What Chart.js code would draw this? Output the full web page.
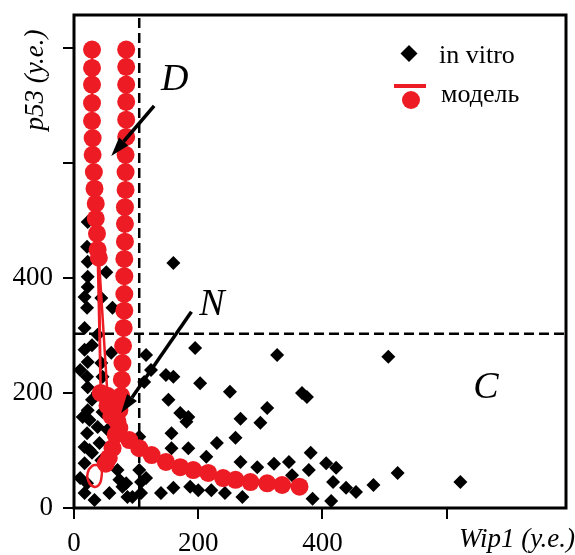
<!DOCTYPE html>
<html>
<head>
<meta charset="utf-8">
<script src="https://cdn.jsdelivr.net/npm/chart.js@4/dist/chart.umd.min.js"></script>
<style>
  html, body { margin: 0; padding: 0; background: #fff; overflow: hidden; }
  #wrap { width: 575px; height: 555px; position: relative; }
</style>
</head>
<body>
<div id="wrap"><canvas id="phaseChart"></canvas></div>
<script>
// in vitro measurements (Wip1, p53)
const vitroWip1 = [
  22, 21, 52, 22, 22, 22, 17, 44, 21, 62, 17, 38, 29, 17, 60, 22, 44, 10, 21, 46,
  22, 38, 29, 22, 46, 25, 38, 21, 54, 17, 41, 29, 17, 44, 10, 17, 33, 21, 57, 14,
  25, 70, 73, 84, 86, 94, 78, 105, 116, 108, 108, 140, 160, 187, 157, 184, 157, 171,
  184, 152, 113, 124, 148, 160, 116, 160, 195, 105, 181,
  203, 251, 327, 367, 375, 311, 268, 300, 260, 230, 213, 268, 295, 322, 346, 381,
  378, 351, 200, 221, 243, 271, 384, 406, 422, 417, 438, 454, 414, 482, 506, 521, 622
];
const vitroP53 = [
  497, 454, 410, 428, 402, 384, 367, 365, 348, 348, 313, 301, 283, 275, 270, 254, 252, 240, 228, 228,
  210, 200, 188, 170, 167, 153, 141, 130, 136, 106, 113, 96, 78, 83, 52, 26, 14, 43, 26, 158,
  101, 66, 49, 43, 19, 19, 37, 66, 52, 26, 45, 26, 35, 37, 104, 104, 130, 165,
  158, 188, 219, 240, 231, 228, 266, 426, 278, 124, 150,
  217, 202, 266, 200, 193, 174, 155, 148, 122, 113, 89, 80, 71, 77, 80, 96,
  66, 57, 31, 31, 26, 19, 16, 78, 70, 45, 35, 28, 12, 40, 263, 61, 45
];

// model trajectories
const modelAWip1 = [29, 29, 29, 29, 29, 30, 30, 32, 33, 35, 35, 37, 38, 43, 40, 54, 54, 60];
const modelAP53 = [797, 765, 736, 704, 673, 643, 614, 584, 555, 529, 503, 477, 449, 200, 435, 195, 178, 160];

const modelBWip1 = [84, 84, 84, 84, 84, 84, 83, 83, 83, 82, 82, 82, 81, 81, 81, 81, 80, 79, 78, 77, 76, 73, 70, 67, 62, 56, 51];
const modelBP53 = [797, 767, 736, 706, 675, 645, 614, 584, 553, 523, 494, 463, 433, 403, 372, 343, 313, 282, 252, 223, 195, 170, 150, 127, 104, 87, 77];

const modelCWip1 = [363, 335, 311, 284, 260, 240, 216, 192, 171, 148, 125, 105, 89, 73];
const modelCP53 = [37, 40, 43, 45, 49, 52, 61, 66, 71, 80, 92, 104, 118, 139];

// small closed cycle near the origin
const cycleWip1 = [38, 44, 44, 40, 32, 24, 22, 29, 38];
const cycleP53 = [75, 68, 52, 40, 37, 45, 61, 73, 75];

// region borders
const wip1Border = 105;
const p53Border = 303;

const xMax = 792;
const yMax = 857;
const xTicks = [0, 200, 400, 600];
const yTicks = [0, 200, 400, 600, 800];
const labelledTicks = [0, 200, 400];

const RED = "#ed1c24";
const SERIF = "'Liberation Serif', 'Times New Roman', serif";

const toPoints = (xs, ys) => xs.map((x, i) => ({ x: x, y: ys[i] }));

// arrows and region letters, in data units
const arrows = [
  { from: [129, 699], to: [60, 612] },
  { from: [189, 341], to: [76, 165] }
];
const regionLetters = [
  { text: "D", x: 162, y: 744 },
  { text: "N", x: 222, y: 353 },
  { text: "C", x: 663, y: 209 }
];

function drawArrow(ctx, x0, y0, x1, y1) {
  const ang = Math.atan2(y1 - y0, x1 - x0);
  const headLen = 19, headHalf = 6;
  const bx = x1 - headLen * Math.cos(ang);
  const by = y1 - headLen * Math.sin(ang);
  ctx.beginPath();
  ctx.moveTo(x0, y0);
  ctx.lineTo(bx, by);
  ctx.stroke();
  ctx.beginPath();
  ctx.moveTo(x1, y1);
  ctx.lineTo(bx + headHalf * Math.sin(ang), by - headHalf * Math.cos(ang));
  ctx.lineTo(bx - headHalf * Math.sin(ang), by + headHalf * Math.cos(ang));
  ctx.closePath();
  ctx.fill();
}

const decorations = {
  id: "decorations",
  afterDatasetsDraw(chart) {
    const { ctx, scales: { x, y } } = chart;
    ctx.save();
    ctx.strokeStyle = "#000";
    ctx.fillStyle = "#000";
    ctx.lineWidth = 3.5;
    ctx.lineCap = "butt";
    arrows.forEach(a => {
      drawArrow(ctx,
        x.getPixelForValue(a.from[0]), y.getPixelForValue(a.from[1]),
        x.getPixelForValue(a.to[0]), y.getPixelForValue(a.to[1]));
    });
    ctx.font = "italic 38px " + SERIF;
    ctx.textAlign = "center";
    ctx.textBaseline = "middle";
    regionLetters.forEach(l => {
      ctx.fillText(l.text, x.getPixelForValue(l.x), y.getPixelForValue(l.y));
    });
    ctx.restore();
  },
  afterDraw(chart) {
    const { ctx, chartArea: a } = chart;
    ctx.save();
    // frame
    ctx.strokeStyle = "#000";
    ctx.lineWidth = 3;
    ctx.strokeRect(a.left, a.top, a.right - a.left, a.bottom - a.top);

    // legend
    const lx = a.right - 157;
    ctx.fillStyle = "#000";
    ctx.beginPath();
    ctx.moveTo(lx, 45);
    ctx.lineTo(lx + 8.5, 53.5);
    ctx.lineTo(lx, 62);
    ctx.lineTo(lx - 8.5, 53.5);
    ctx.closePath();
    ctx.fill();
    ctx.strokeStyle = RED;
    ctx.lineWidth = 4;
    ctx.beginPath();
    ctx.moveTo(lx - 15, 86);
    ctx.lineTo(lx + 17, 86);
    ctx.stroke();
    ctx.fillStyle = RED;
    ctx.beginPath();
    ctx.arc(lx + 2, 100, 9, 0, Math.PI * 2);
    ctx.fill();
    ctx.fillStyle = "#000";
    ctx.font = "26px " + SERIF;
    ctx.textAlign = "left";
    ctx.textBaseline = "alphabetic";
    ctx.fillText("in vitro", lx + 30, 63);
    ctx.fillText("модель", lx + 32, 102);

    // axis titles
    ctx.font = "italic 27px " + SERIF;
    ctx.textAlign = "right";
    ctx.fillText("Wip1 (у.е.)", 575, 547);
    ctx.translate(43, 80);
    ctx.rotate(-Math.PI / 2);
    ctx.textAlign = "center";
    ctx.fillText("p53 (у.е.)", 0, 0);
    ctx.restore();
  }
};

const tickFont = { family: SERIF, size: 27 };
const tickLabel = v => (labelledTicks.includes(v) ? v : "");

new Chart(document.getElementById("phaseChart"), {
  type: "scatter",
  data: {
    datasets: [
      {
        label: "in vitro",
        data: toPoints(vitroWip1, vitroP53),
        pointStyle: "rectRot",
        pointRadius: 7,
        pointBackgroundColor: "#000",
        pointBorderWidth: 0,
        order: 4
      },
      {
        label: "wip1 border",
        data: [{ x: wip1Border, y: 0 }, { x: wip1Border, y: yMax }],
        showLine: true,
        borderColor: "#000",
        borderWidth: 2.5,
        borderDash: [10, 5],
        pointRadius: 0,
        order: 3
      },
      {
        label: "p53 border",
        data: [{ x: 0, y: p53Border }, { x: xMax, y: p53Border }],
        showLine: true,
        borderColor: "#000",
        borderWidth: 2.5,
        borderDash: [10, 5],
        pointRadius: 0,
        order: 3
      },
      {
        label: "модель",
        data: toPoints(modelAWip1, modelAP53),
        showLine: true,
        borderColor: RED,
        borderWidth: 2.5,
        pointRadius: 9,
        pointBackgroundColor: RED,
        pointBorderWidth: 0,
        order: 1
      },
      {
        label: "модель B",
        data: toPoints(modelBWip1, modelBP53),
        showLine: true,
        borderColor: RED,
        borderWidth: 2.5,
        pointRadius: 9,
        pointBackgroundColor: RED,
        pointBorderWidth: 0,
        order: 1
      },
      {
        label: "модель C",
        data: toPoints(modelCWip1, modelCP53),
        showLine: true,
        borderColor: RED,
        borderWidth: 2.5,
        pointRadius: 9,
        pointBackgroundColor: RED,
        pointBorderWidth: 0,
        order: 1
      },
      {
        label: "цикл",
        data: toPoints(cycleWip1, cycleP53),
        showLine: true,
        borderColor: RED,
        borderWidth: 2.5,
        tension: 0.5,
        pointRadius: 0,
        order: 1
      }
    ]
  },
  options: {
    responsive: true,
    maintainAspectRatio: false,
    animation: false,
    // the x scale keeps 3px on its right, so pull the area back out
    layout: { padding: { top: 15, right: -1, left: 0, bottom: 0 } },
    plugins: {
      legend: { display: false },
      tooltip: { enabled: false }
    },
    scales: {
      x: {
        type: "linear",
        min: 0,
        max: xMax,
        border: { display: false },
        grid: { drawOnChartArea: false, tickLength: 11, color: "#000", lineWidth: 2 },
        ticks: {
          autoSkip: false,
          maxRotation: 0,
          padding: 9,
          color: "#000",
          font: tickFont,
          callback: tickLabel
        },
        afterBuildTicks: s => { s.ticks = xTicks.map(v => ({ value: v })); },
        afterFit: s => {
          s.height = 47;
          s.paddingLeft = 0;
          s.paddingRight = 0;
        }
      },
      y: {
        type: "linear",
        min: 0,
        max: yMax,
        border: { display: false },
        grid: { drawOnChartArea: false, tickLength: 11, color: "#000", lineWidth: 2 },
        ticks: {
          autoSkip: false,
          padding: 10,
          color: "#000",
          font: tickFont,
          callback: tickLabel
        },
        afterBuildTicks: s => { s.ticks = yTicks.map(v => ({ value: v })); },
        afterFit: s => {
          s.width = 74;
          s.paddingTop = 0;
          s.paddingBottom = 0;
        }
      }
    }
  },
  plugins: [decorations]
});
</script>
</body>
</html>
